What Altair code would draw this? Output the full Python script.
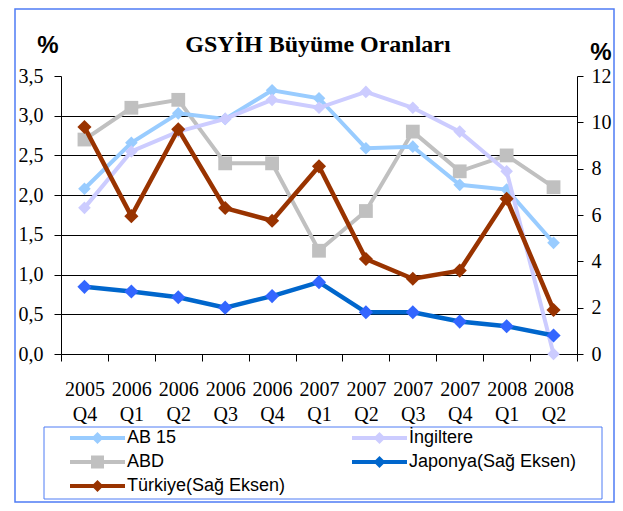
import altair as alt
import pandas as pd

# ---------------- data ----------------
years = ["2005", "2006", "2006", "2006", "2006", "2007", "2007", "2007", "2007", "2008", "2008"]
quarters = ["Q4", "Q1", "Q2", "Q3", "Q4", "Q1", "Q2", "Q3", "Q4", "Q1", "Q2"]
categories = [f"{y} {q}" for y, q in zip(years, quarters)]

ab15 = [2.08, 2.66, 3.03, 2.96, 3.32, 3.22, 2.59, 2.61, 2.13, 2.07, 1.40]
ingiltere = [1.84, 2.55, 2.80, 2.96, 3.20, 3.10, 3.30, 3.10, 2.80, 2.30, 0.00]
abd = [2.70, 3.10, 3.20, 2.40, 2.40, 1.30, 1.80, 2.80, 2.30, 2.50, 2.10]
japonya = [2.90, 2.70, 2.45, 2.00, 2.50, 3.10, 1.80, 1.80, 1.40, 1.20, 0.80]
turkiye = [9.80, 5.95, 9.70, 6.30, 5.75, 8.10, 4.10, 3.25, 3.60, 6.70, 1.90]

left_ticks = [0, 0.5, 1.0, 1.5, 2.0, 2.5, 3.0, 3.5]
right_ticks = [0, 2, 4, 6, 8, 10, 12]

series_names = ["AB 15", "İngiltere", "ABD", "Japonya(Sağ Eksen)", "Türkiye(Sağ Eksen)"]
series_colors = ["#99CCFF", "#CCCCFF", "#C0C0C0", "#0066CC", "#993300"]

title_text = "GSYİH Büyüme Oranları"

def frame(name, vals):
    return pd.DataFrame({"period": categories, "value": vals, "series": name})

df_ab15 = frame("AB 15", ab15)
df_ing = frame("İngiltere", ingiltere)
df_abd = frame("ABD", abd)
df_jap = frame("Japonya(Sağ Eksen)", japonya)
df_tur = frame("Türkiye(Sağ Eksen)", turkiye)
df_all = pd.concat([df_ab15, df_ing, df_abd, df_jap, df_tur])

SERIF = "Liberation Serif"
SANS = "Liberation Sans"
BLUE_BORDER = "#4F7CF5"

# ---------------- scales / axes ----------------
x_axis = alt.Axis(
    title=None, labelExpr="split(datum.label, ' ')", labelAngle=0,
    labelFont=SERIF, labelFontSize=20, labelColor="black", labelLineHeight=25,
    labelPadding=18, tickBand="extent", tickSize=7, tickColor="black",
    domainColor="black", grid=False,
)
x_enc = alt.X("period:N", sort=categories,
              scale=alt.Scale(type="band", paddingInner=0, paddingOuter=0),
              axis=x_axis)

left_axis = alt.Axis(
    orient="left", title=None, values=left_ticks,
    labelExpr="replace(format(datum.value, '.1f'), '.', ',')",
    labelFont=SERIF, labelFontSize=20, labelColor="black", labelPadding=11,
    tickSize=7, tickColor="black", domainColor="black",
    grid=True, gridColor="black", gridWidth=1,
    gridOpacity={"condition": {"test": "datum.value >= 3.5", "value": 0}, "value": 1},
)
right_axis = alt.Axis(
    orient="right", title=None, values=right_ticks, format="d",
    labelFont=SERIF, labelFontSize=20, labelColor="black", labelPadding=8,
    tickSize=6, tickColor="black", domainColor="black", grid=False,
)
left_scale = alt.Scale(domain=[0, 3.5], nice=False, zero=True)
right_scale = alt.Scale(domain=[0, 12], nice=False, zero=True)


def series_layers(df, color, marker_color, shape, size, width, scale, axis):
    y = alt.Y("value:Q", scale=scale, axis=axis)
    line = alt.Chart(df).mark_line(color=color, strokeWidth=width).encode(x=x_enc, y=y)
    pts = alt.Chart(df).mark_point(filled=True, color=marker_color, shape=shape,
                                   size=size, opacity=1).encode(x=x_enc, y=y)
    return [line, pts]


left_group = alt.layer(
    *series_layers(df_abd, "#C0C0C0", "#C0C0C0", "square", 190, 4, left_scale, left_axis),
    *series_layers(df_ab15, "#99CCFF", "#99CCFF", "diamond", 160, 4, left_scale, left_axis),
    *series_layers(df_ing, "#CCCCFF", "#CCCCFF", "diamond", 160, 4, left_scale, left_axis),
)
right_group = alt.layer(
    *series_layers(df_jap, "#0066CC", "#3366FF", "diamond", 200, 4.5, right_scale, right_axis),
    *series_layers(df_tur, "#993300", "#993300", "diamond", 200, 4.5, right_scale, right_axis),
)

# ---------------- legend (built-in legend, line+marker symbols) ----------------
diamond_path = ("M-1,-0.073 L-0.145,-0.073 L0,-0.218 L0.145,-0.073 L1,-0.073 "
                "L1,0.073 L0.145,0.073 L0,0.218 L-0.145,0.073 L-1,0.073 Z")
square_path = ("M-1,-0.073 L-0.236,-0.073 L-0.236,-0.236 L0.236,-0.236 L0.236,-0.073 "
               "L1,-0.073 L1,0.073 L0.236,0.073 L0.236,0.236 L-0.236,0.236 "
               "L-0.236,0.073 L-1,0.073 Z")
legend_shapes = [diamond_path, diamond_path, square_path, diamond_path, diamond_path]

legend = alt.Legend(
    title=None, orient="none", legendX=9, legendY=350, columns=2,
    direction="horizontal",
    columnPadding=66, rowPadding=0, clipHeight=24, padding=0,
    symbolSize=3025, symbolStrokeWidth=0, symbolOpacity=1,
    labelFont=SANS, labelFontSize=18, labelColor="black", labelOffset=2,
    labelLimit=400,
)
carrier = alt.Chart(df_all).mark_point(filled=True, size=10).encode(
    x=alt.value(-3000), y=alt.value(-3000),
    color=alt.Color("series:N", scale=alt.Scale(domain=series_names, range=series_colors), legend=legend),
    shape=alt.Shape("series:N", scale=alt.Scale(domain=series_names, range=legend_shapes), legend=legend),
)

# ---------------- decorations ----------------
one = pd.DataFrame({"k": [0]})
outer_border = alt.Chart(one).mark_rect(fill=None, stroke=BLUE_BORDER, strokeWidth=1.5).encode(
    x=alt.value(-46), x2=alt.value(553), y=alt.value(-67), y2=alt.value(426))
legend_border = alt.Chart(one).mark_rect(fill=None, stroke=BLUE_BORDER, strokeWidth=1).encode(
    x=alt.value(-17), x2=alt.value(541), y=alt.value(351), y2=alt.value(423))
title_mark = alt.Chart(one).mark_text(
    font=SERIF, fontSize=24, fontWeight="bold", color="black", align="center", baseline="alphabetic"
).encode(x=alt.value(257), y=alt.value(-24), text=alt.value(title_text))
pct_left = alt.Chart(one).mark_text(
    font=SANS, fontSize=24, fontWeight="bold", color="black", align="center", baseline="alphabetic"
).encode(x=alt.value(-13), y=alt.value(-23), text=alt.value("%"))
pct_right = alt.Chart(one).mark_text(
    font=SANS, fontSize=24, fontWeight="bold", color="black", align="center", baseline="alphabetic"
).encode(x=alt.value(540), y=alt.value(-16), text=alt.value("%"))

chart = alt.layer(
    left_group, right_group, carrier,
    outer_border, legend_border, title_mark, pct_left, pct_right,
).resolve_scale(y="independent").properties(
    width=516, height=278,
    autosize=alt.AutoSizeParams(type="none"),
    padding={"left": 53, "top": 68, "right": 38, "bottom": 149},
    background="white",
).configure_view(strokeWidth=0)

chart.save("out.html", embed_options={"renderer": "svg", "actions": False})
